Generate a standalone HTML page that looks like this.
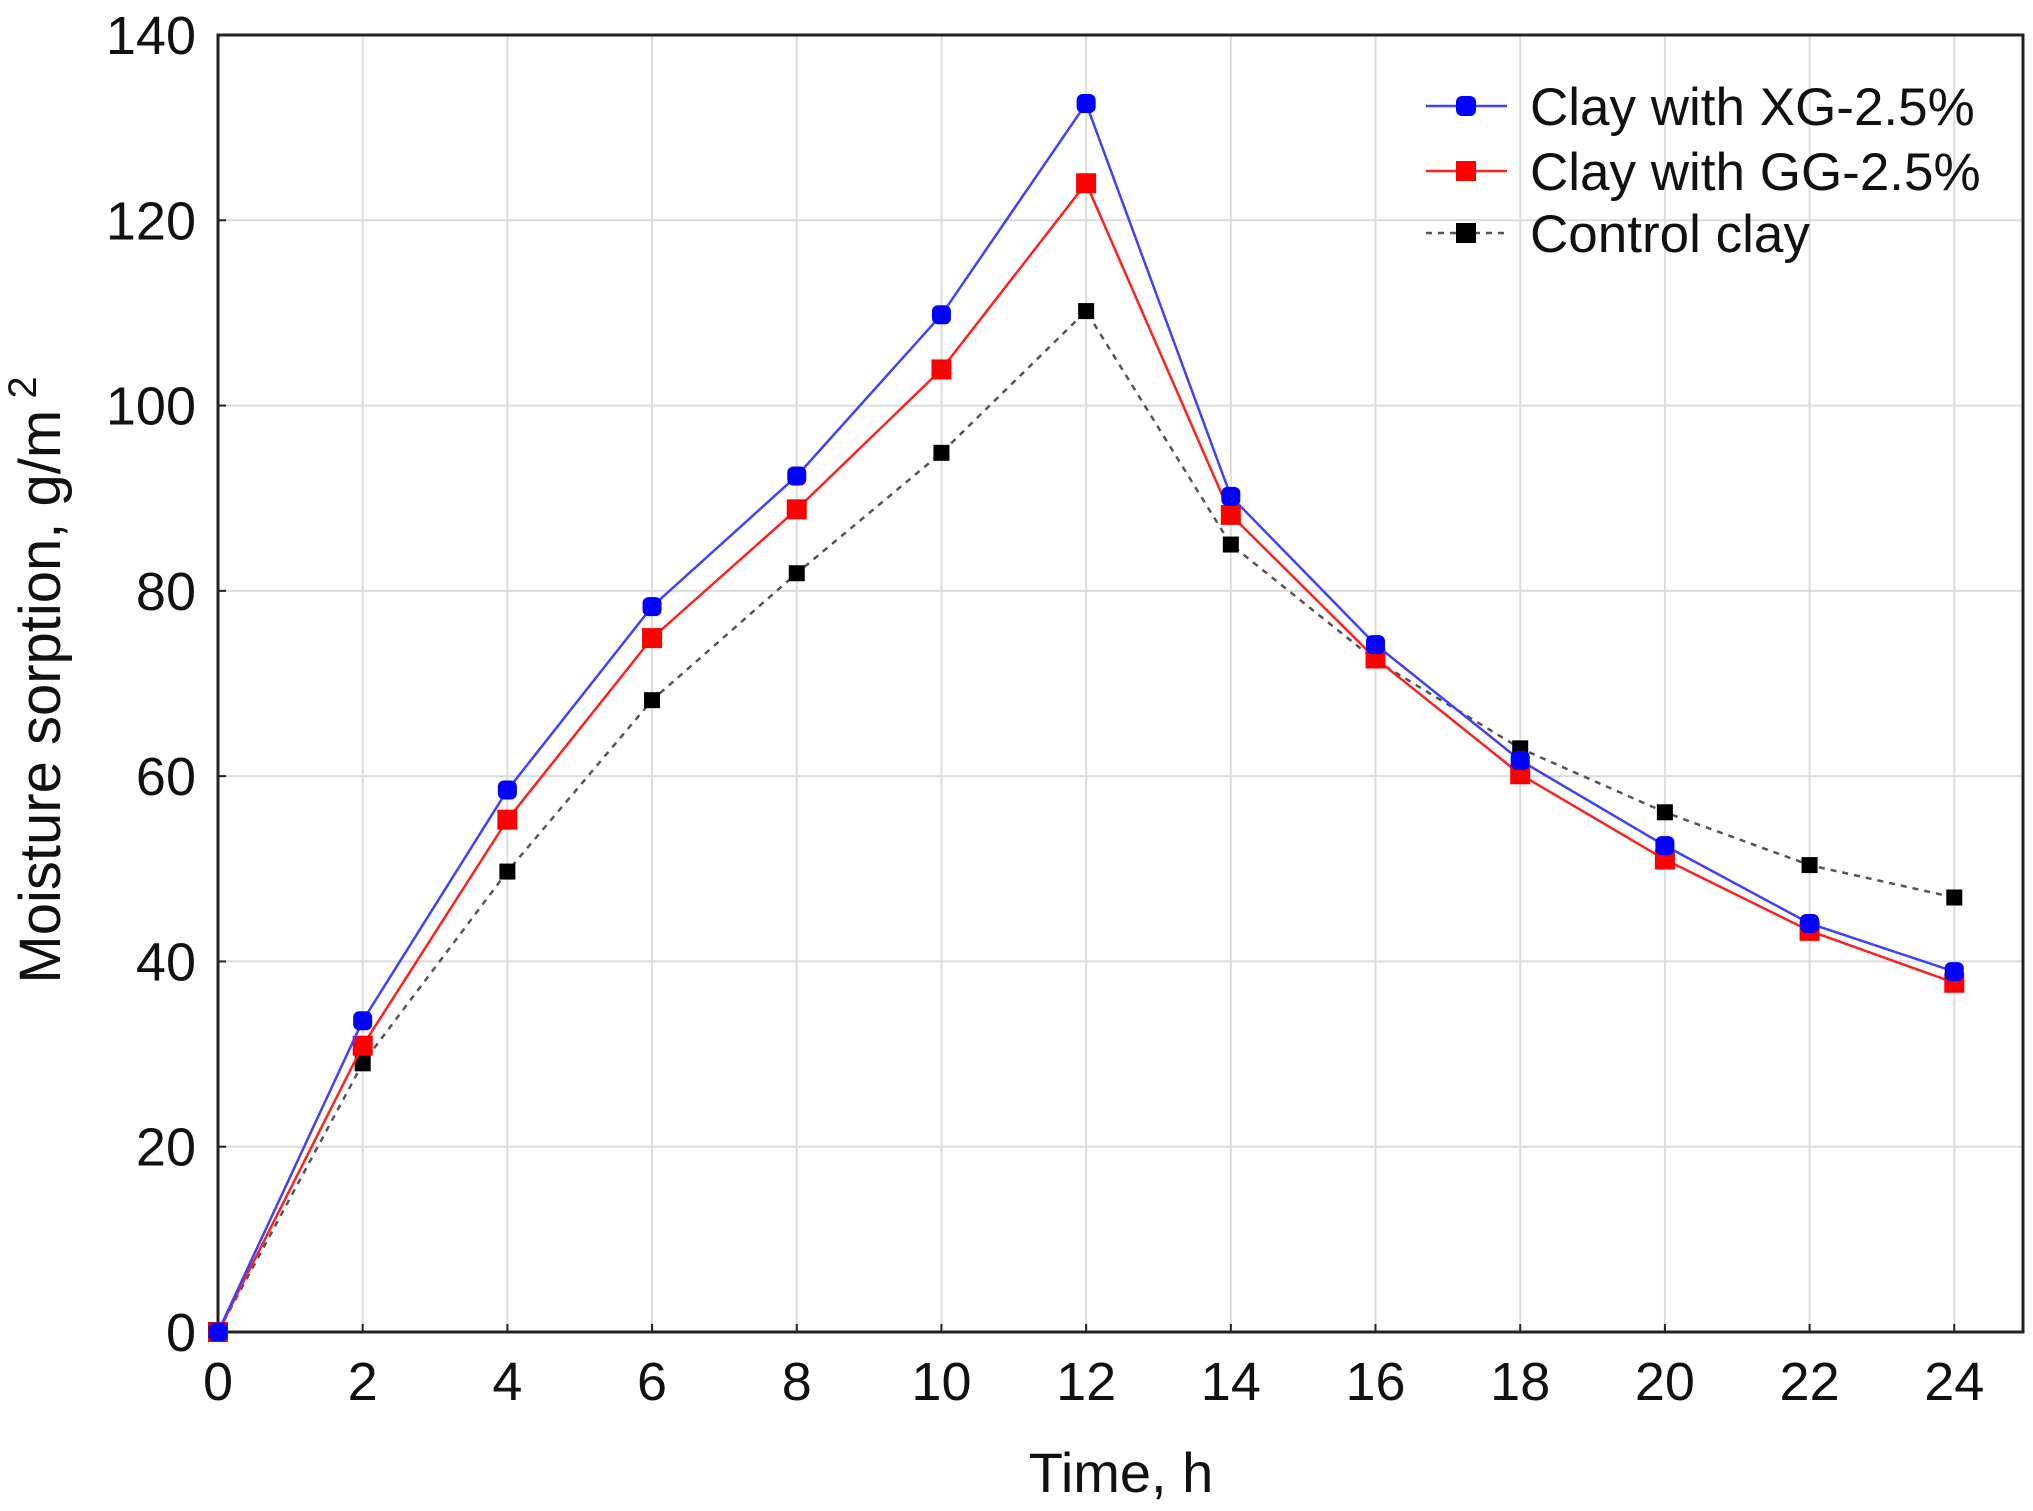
<!DOCTYPE html>
<html><head><meta charset="utf-8"><style>
html,body{margin:0;padding:0;background:#fff;}
svg{display:block;font-family:"Liberation Sans",Arial,sans-serif;}
</style></head><body>
<svg id="chart" width="2033" height="1511" viewBox="0 0 2033 1511">
<g id="grid"></g>
<g id="axes"></g>
<g id="series"></g>
<text x="1121" y="1492" font-size="56" text-anchor="middle" fill="#111">Time, h</text>
<text transform="translate(60,680) rotate(-90)" font-size="58" text-anchor="middle" fill="#111">Moisture sorption, g/m<tspan dy="-24" font-size="40"> 2</tspan></text>
<g id="legend"></g>
</svg>
<script>
const hours = [0,2,4,6,8,10,12,14,16,18,20,22,24];
const xgValues = [0,33.6,58.5,78.3,92.4,109.8,132.6,90.2,74.2,61.7,52.5,44.1,38.9];
const ggValues = [0,30.9,55.3,74.9,88.8,103.9,124.0,88.2,72.7,60.2,51.0,43.3,37.7];
const controlValues = [0,29.0,49.7,68.2,81.9,94.9,110.2,85.0,72.5,63.0,56.1,50.4,46.9];
const xTicks = [0,2,4,6,8,10,12,14,16,18,20,22,24];
const yTicks = [0,20,40,60,80,100,120,140];
const seriesNames = ["Clay with XG-2.5%","Clay with GG-2.5%","Control clay"];

const NS="http://www.w3.org/2000/svg";
const L=218,R=2023,T=35,B=1332;
const XMAX=24.95;
const xs=v=>L+(v-0)/(XMAX-0)*(R-L);
const ys=v=>B-(v-0)/(140-0)*(B-T);
function mk(tag,attrs,parent){const e=document.createElementNS(NS,tag);for(const k in attrs)e.setAttribute(k,attrs[k]);parent.appendChild(e);return e;}
const grid=document.getElementById('grid'),axes=document.getElementById('axes'),ser=document.getElementById('series'),leg=document.getElementById('legend');

xTicks.forEach(t=>{
  const g=mk('line',{x1:xs(t),x2:xs(t),y1:T,y2:B,stroke:'#dcdcdc','stroke-width':2},grid);
  
  
  const tk=mk('line',{x1:xs(t),x2:xs(t),y1:B,y2:B-8,stroke:'#222','stroke-width':2},axes);
  
  
  const lb=mk('text',{x:xs(t),y:1400,'font-size':54,'text-anchor':'middle',fill:'#111'},axes);
  lb.textContent=t;
  
  
});
yTicks.forEach(t=>{
  const g=mk('line',{x1:L,x2:R,y1:ys(t),y2:ys(t),stroke:'#dcdcdc','stroke-width':2},grid);
  
  
  const tk=mk('line',{x1:L,x2:L+8,y1:ys(t),y2:ys(t),stroke:'#222','stroke-width':2},axes);
  
  
  const lb=mk('text',{x:196,y:ys(t)+19,'font-size':54,'text-anchor':'end',fill:'#111'},axes);
  lb.textContent=t;
  
  
});
const frame=mk('rect',{x:L,y:T,width:R-L,height:B-T,fill:'none',stroke:'#222','stroke-width':3},axes);



const defs=[
  {vals:controlValues,color:'#555',mcolor:'#000',dash:'6,6',circle:false,size:16},
  {vals:ggValues,color:'#ff2020',mcolor:'#ff0000',dash:null,circle:false,size:20},
  {vals:xgValues,color:'#4040ff',mcolor:'#0000ff',dash:null,circle:true,size:19}
];
const names=['control-clay','clay-gg','clay-xg'];
defs.forEach((d,i)=>{
  const pts=hours.map((h,j)=>xs(h)+','+ys(d.vals[j])).join(' ');
  const a={points:pts,fill:'none',stroke:d.color,'stroke-width':2.5};
  if(d.dash)a['stroke-dasharray']=d.dash;
  const pl=mk('polyline',a,ser);
  
  
  hours.forEach((h,j)=>{
    const m=mk('rect',{x:xs(h)-d.size/2,y:ys(d.vals[j])-d.size/2,width:d.size,height:d.size,rx:d.circle?6:0,fill:d.mcolor},ser);
    
    
  });
});

const legDefs=[
  {color:'#4040ff',mcolor:'#0000ff',dash:null,circle:true,y:106},
  {color:'#ff2020',mcolor:'#ff0000',dash:null,circle:false,y:171},
  {color:'#555',mcolor:'#000',dash:'6,6',circle:false,y:233}
];
legDefs.forEach((d,i)=>{
  const g=mk('g',{},leg);
  
  
  const a={x1:1426,x2:1507,y1:d.y,y2:d.y,stroke:d.color,'stroke-width':2.5};
  if(d.dash)a['stroke-dasharray']=d.dash;
  mk('line',a,g);
  mk('rect',{x:1456,y:d.y-10,width:20,height:20,rx:d.circle?6:0,fill:d.mcolor},g);
  const t=mk('text',{x:1530,y:d.y+19,'font-size':53,fill:'#111'},g);
  t.textContent=seriesNames[i];
});
</script>
</body></html>
